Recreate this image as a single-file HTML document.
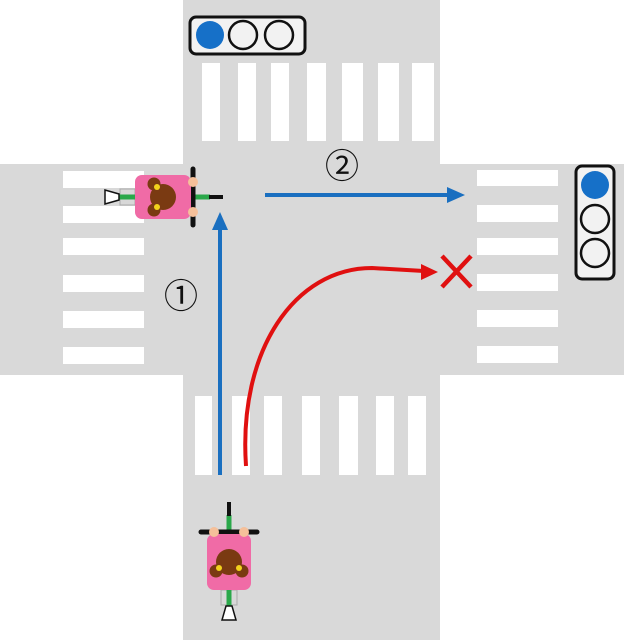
<!DOCTYPE html>
<html><head><meta charset="utf-8"><style>html,body{margin:0;padding:0;background:#fff}svg{display:block}</style></head>
<body>
<svg width="624" height="640" viewBox="0 0 624 640" xmlns="http://www.w3.org/2000/svg">
<defs>
<g id="bike">
<rect x="-8" y="30" width="16" height="15" fill="#d8d8d8" stroke="#aaa" stroke-width="1"/>
<line x1="0" y1="-45" x2="0" y2="55" stroke="#2aa84a" stroke-width="5"/>
<line x1="0" y1="-58" x2="0" y2="-44" stroke="#111" stroke-width="4"/>
<polygon points="-7,60 7,60 3,46 -3,46" fill="#fff" stroke="#111" stroke-width="1.5"/>
<line x1="-28" y1="-28" x2="28" y2="-28" stroke="#111" stroke-width="5" stroke-linecap="round"/>
<rect x="-22" y="-26" width="44" height="56" rx="7" fill="#f06ba6"/>
<circle cx="-15" cy="-28" r="5" fill="#f5c09a"/>
<circle cx="15" cy="-28" r="5" fill="#f5c09a"/>
<circle cx="-13" cy="11" r="6.5" fill="#7a3a12"/>
<circle cx="13" cy="11" r="6.5" fill="#7a3a12"/>
<circle cx="0" cy="2" r="13" fill="#7a3a12"/>
<circle cx="-10" cy="8" r="3" fill="#f2d21c"/>
<circle cx="10" cy="8" r="3" fill="#f2d21c"/>
</g>
</defs>
<rect x="183" y="0" width="257" height="640" fill="#d9d9d9"/>
<rect x="0" y="164" width="624" height="211" fill="#d9d9d9"/>
<g fill="#fff">
<rect x="202" y="63" width="18" height="78"/><rect x="238" y="63" width="18" height="78"/><rect x="271" y="63" width="18" height="78"/><rect x="307" y="63" width="19" height="78"/><rect x="342" y="63" width="21" height="78"/><rect x="378" y="63" width="21" height="78"/><rect x="412" y="63" width="22" height="78"/>
<rect x="195" y="396" width="17" height="79"/><rect x="232" y="396" width="18" height="79"/><rect x="264" y="396" width="18" height="79"/><rect x="302" y="396" width="18" height="79"/><rect x="339" y="396" width="19" height="79"/><rect x="376" y="396" width="18" height="79"/><rect x="408" y="396" width="18" height="79"/>
<rect x="63" y="171" width="81" height="17"/><rect x="63" y="206" width="81" height="17"/><rect x="63" y="238" width="81" height="17"/><rect x="63" y="275" width="81" height="17"/><rect x="63" y="311" width="81" height="17"/><rect x="63" y="347" width="81" height="17"/>
<rect x="477" y="170" width="81" height="16"/><rect x="477" y="205" width="81" height="17"/><rect x="477" y="238" width="81" height="17"/><rect x="477" y="274" width="81" height="17"/><rect x="477" y="310" width="81" height="17"/><rect x="477" y="346" width="81" height="17"/>
</g>
<rect x="190" y="17" width="115" height="37" rx="6" fill="#f2f2f2" stroke="#111" stroke-width="3"/>
<circle cx="210" cy="35" r="14" fill="#1670c8"/>
<circle cx="243" cy="35" r="14" fill="#f2f2f2" stroke="#111" stroke-width="2.5"/>
<circle cx="279" cy="35" r="14" fill="#f2f2f2" stroke="#111" stroke-width="2.5"/>
<rect x="576" y="166" width="38" height="113" rx="6" fill="#f2f2f2" stroke="#111" stroke-width="3"/>
<circle cx="595" cy="185" r="14" fill="#1670c8"/>
<circle cx="595" cy="219" r="14" fill="#f2f2f2" stroke="#111" stroke-width="2.5"/>
<circle cx="595" cy="253" r="14" fill="#f2f2f2" stroke="#111" stroke-width="2.5"/>
<line x1="220" y1="475" x2="220" y2="228" stroke="#1a6fc0" stroke-width="4"/>
<polygon points="220,212 212,230 228,230" fill="#1a6fc0"/>
<line x1="265" y1="195" x2="450" y2="195" stroke="#1a6fc0" stroke-width="4"/>
<polygon points="465,195 447,187 447,203" fill="#1a6fc0"/>
<path d="M246,466 C238,350 295,268 372,268 L424,271" fill="none" stroke="#e01010" stroke-width="4"/>
<polygon points="438,272 421,264 421,280" fill="#e01010"/>
<g stroke="#e01010" stroke-width="4.5"><line x1="442" y1="256" x2="471" y2="287"/><line x1="471" y1="256" x2="442" y2="287"/></g>
<text x="342" y="178" font-family="'Liberation Sans','Noto Sans CJK JP',sans-serif" font-size="34" text-anchor="middle" fill="#111">②</text>
<text x="181" y="308" font-family="'Liberation Sans','Noto Sans CJK JP',sans-serif" font-size="34" text-anchor="middle" fill="#111">①</text>
<use href="#bike" transform="translate(229,560)"/>
<use href="#bike" transform="translate(165,197) rotate(90)"/>
</svg>
</body></html>
